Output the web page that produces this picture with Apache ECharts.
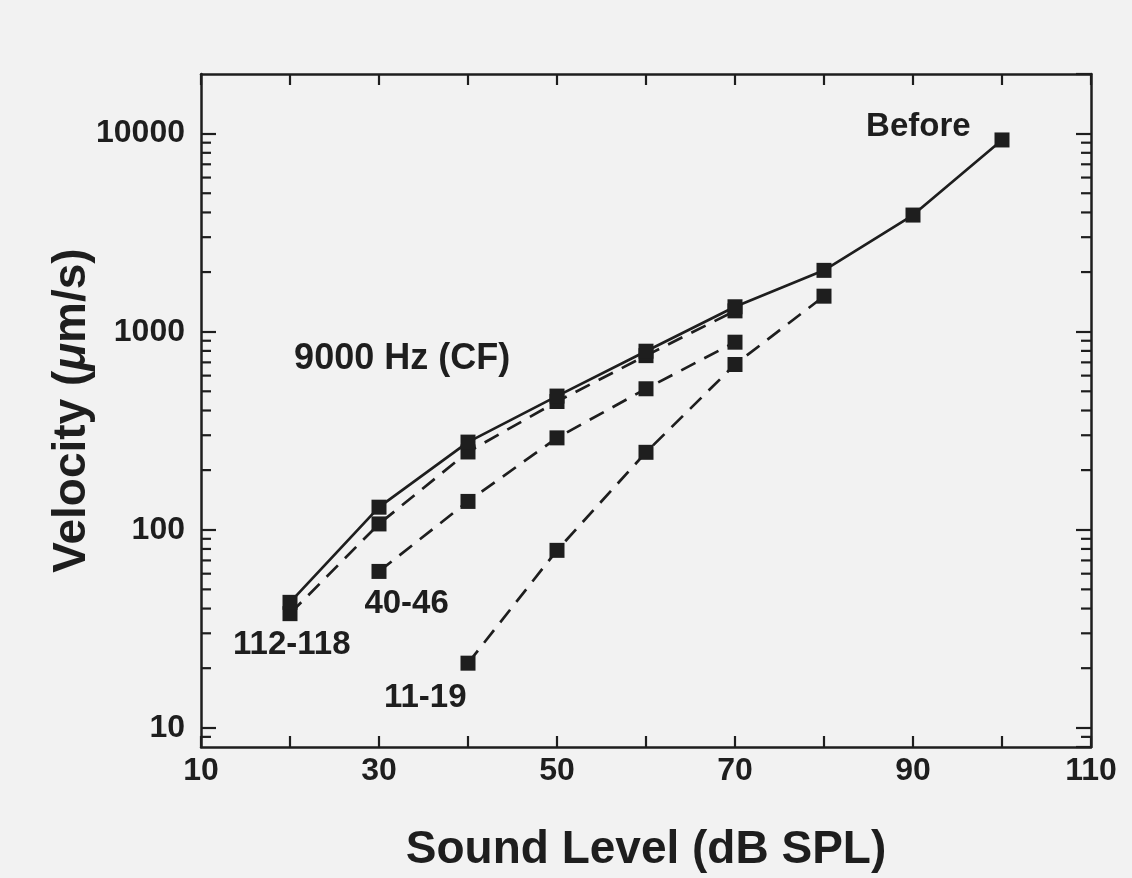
<!DOCTYPE html>
<html>
<head>
<meta charset="utf-8">
<script src="https://cdn.jsdelivr.net/npm/echarts@6/dist/echarts.min.js"></script>
<style>
  html, body { margin: 0; padding: 0; background: #f2f2f2; }
  #chart { width: 1132px; height: 878px; }
</style>
</head>
<body>
<div id="chart"></div>
<script>
// ---- data ----
const levels = [20, 30, 40, 50, 60, 70, 80, 90, 100];
const before = [43, 130, 277, 473, 797, 1336, 2040, 3880, 9290];
const levels112 = [20, 30, 40, 50, 60, 70];
const group112_118 = [37.7, 107, 247, 444, 757, 1274];
const levels40 = [30, 40, 50, 60, 70];
const group40_46 = [61.6, 139, 291, 515, 885];
const levels11 = [40, 50, 60, 70, 80];
const group11_19 = [21.2, 78.7, 246, 683, 1511];
const xTickLabels = [10, 30, 50, 70, 90, 110];
const yTickLabels = [10, 100, 1000, 10000];
const yMinorTicks = [9, 20, 30, 40, 50, 60, 70, 80, 90, 200, 300, 400, 500, 600, 700, 800, 900,
  2000, 3000, 4000, 5000, 6000, 7000, 8000, 9000];
const annotations = [
  { text: 'Before', x: 90.6, y: 10770, size: 33 },
  { text: '9000 Hz (CF)', x: 32.6, y: 724, size: 36 },
  { text: '112-118', x: 20.2, y: 26.3, size: 33 },
  { text: '40-46', x: 33.1, y: 42.3, size: 33 },
  { text: '11-19', x: 35.2, y: 14.2, size: 33 }
];

const ink = '#1e1e1e';
const FONT = '"Liberation Sans", Arial, Helvetica, sans-serif';

function pairs(xs, ys) { return xs.map((x, i) => [x, ys[i]]); }

const chart = echarts.init(document.getElementById('chart'), null, { renderer: 'canvas' });

const baseLine = { color: ink, width: 2.7 };
function lineSeries(name, xs, ys, dashed, z) {
  return {
    name, type: 'line', xAxisIndex: 0, yAxisIndex: 0,
    data: pairs(xs, ys),
    symbol: 'rect', symbolSize: 15,
    itemStyle: { color: ink },
    lineStyle: Object.assign({}, baseLine, { type: dashed ? [16, 10] : 'solid' }),
    z, animation: false
  };
}

const option = {
  backgroundColor: '#f2f2f2',
  animation: false,
  grid: { left: 201, right: 41, top: 74, bottom: 130, containLabel: false },
  xAxis: [
    {
      type: 'value', position: 'bottom', min: 10, max: 110, interval: 10,
      axisLine: { show: true, lineStyle: { color: ink, width: 2.5 } },
      axisTick: { show: true, inside: true, length: 11, lineStyle: { color: ink, width: 2.2 } },
      splitLine: { show: false },
      axisLabel: {
        margin: 8, color: ink, fontSize: 32, fontWeight: 'bold', fontFamily: FONT,
        formatter: v => (xTickLabels.indexOf(v) >= 0 ? String(v) : '')
      },
      name: 'Sound Level (dB SPL)', nameLocation: 'middle', nameGap: 80,
      nameMoveOverlap: false,
      nameTextStyle: { color: ink, fontSize: 46, fontWeight: 'bold', fontFamily: FONT }
    },
    {
      type: 'value', position: 'top', min: 10, max: 110, interval: 10,
      axisLine: { show: true, lineStyle: { color: ink, width: 2.5 } },
      axisTick: { show: true, inside: true, length: 11, lineStyle: { color: ink, width: 2.2 } },
      splitLine: { show: false },
      axisLabel: { show: false }
    }
  ],
  yAxis: [
    {
      type: 'log', logBase: 10, min: 8, max: 20000, position: 'left',
      axisLine: { show: true, lineStyle: { color: ink, width: 2.5 } },
      axisTick: { show: true, inside: true, length: 15, lineStyle: { color: ink, width: 2.2 } },
      splitLine: { show: false },
      axisLabel: {
        margin: 16, color: ink, fontSize: 32, fontWeight: 'bold', fontFamily: FONT,
        showMinLabel: false, showMaxLabel: false,
        formatter: v => {
          const r = Math.round(v);
          return yTickLabels.indexOf(r) >= 0 && Math.abs(v - r) < 1e-6 * r ? String(r) : '';
        }
      },
      name: 'Velocity ({mu|μ}m/s)', nameLocation: 'middle', nameGap: 106,
      nameMoveOverlap: false,
      nameTextStyle: {
        color: ink, fontSize: 46, fontWeight: 'bold', fontFamily: FONT,
        rich: { mu: { color: ink, fontSize: 46, fontWeight: 'bold', fontStyle: 'italic', fontFamily: FONT } }
      }
    },
    {
      type: 'log', logBase: 10, min: 8, max: 20000, position: 'right',
      axisLine: { show: true, lineStyle: { color: ink, width: 2.5 } },
      axisTick: { show: true, inside: true, length: 15, lineStyle: { color: ink, width: 2.2 } },
      splitLine: { show: false },
      axisLabel: { show: false }
    }
  ],
  series: [
    {
      type: 'custom', xAxisIndex: 0, yAxisIndex: 0, silent: true, z: 1,
      data: yMinorTicks.map(v => [10, v]),
      renderItem: function (params, api) {
        const v = api.value(1);
        const pL = api.coord([10, v]);
        const pR = api.coord([110, v]);
        return {
          type: 'group',
          children: [
            { type: 'line', shape: { x1: pL[0], y1: pL[1], x2: pL[0] + 10, y2: pL[1] },
              style: { stroke: ink, lineWidth: 2.2 } },
            { type: 'line', shape: { x1: pR[0] - 10, y1: pR[1], x2: pR[0], y2: pR[1] },
              style: { stroke: ink, lineWidth: 2.2 } }
          ]
        };
      }
    },
    lineSeries('11-19', levels11, group11_19, true, 2),
    lineSeries('40-46', levels40, group40_46, true, 2),
    lineSeries('112-118', levels112, group112_118, true, 2),
    lineSeries('Before', levels, before, false, 3)
  ]
};

chart.setOption(option);

const graphics = annotations.map(a => {
  const p = chart.convertToPixel({ xAxisIndex: 0, yAxisIndex: 0 }, [a.x, a.y]);
  return {
    type: 'text', x: p[0], y: p[1], z: 10,
    style: {
      text: a.text, fill: ink, font: 'bold ' + a.size + 'px ' + FONT,
      textAlign: 'center', textVerticalAlign: 'middle'
    }
  };
});
chart.setOption({ graphic: graphics });
</script>
</body>
</html>
